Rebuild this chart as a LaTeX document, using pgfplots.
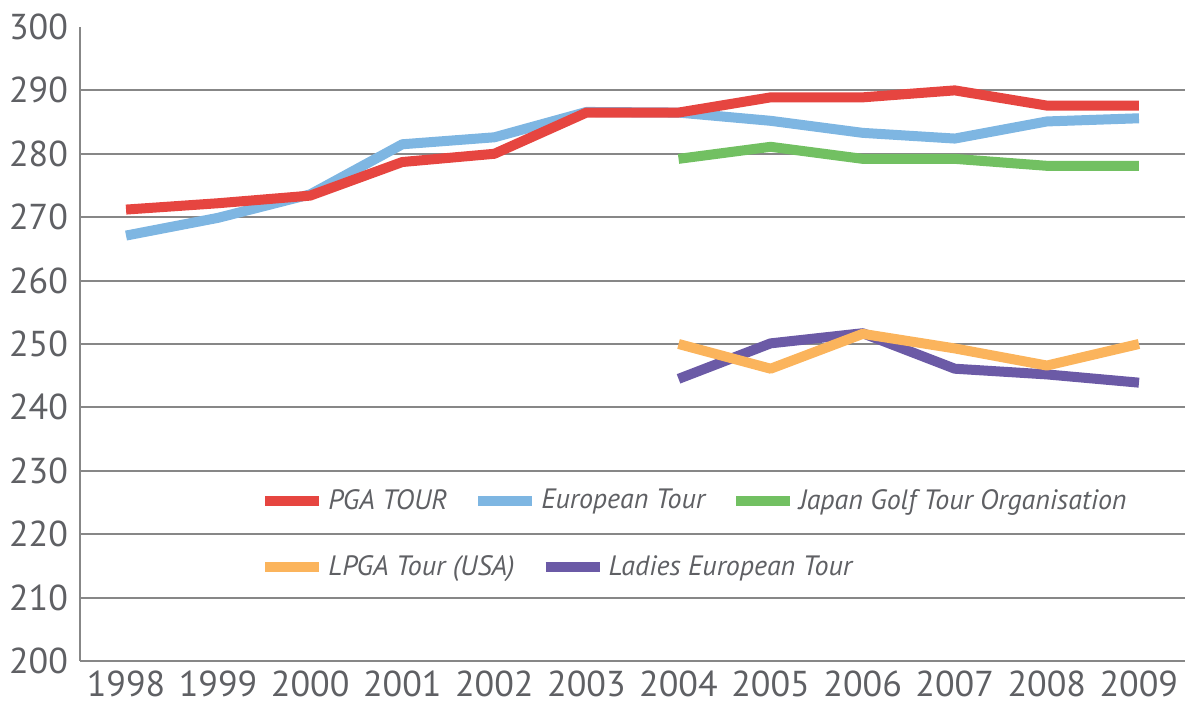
\documentclass[border=0pt]{standalone}
\usepackage{pgfplots}
\pgfplotsset{compat=1.18}
\usepackage{fontspec}
\setmainfont{PT Sans}
\definecolor{pga}{HTML}{E64540}
\definecolor{eur}{HTML}{7EB6E2}
\definecolor{jap}{HTML}{72C062}
\definecolor{lpga}{HTML}{FBB45C}
\definecolor{let}{HTML}{6B5AA6}
\definecolor{axgray}{HTML}{878787}
\definecolor{labgray}{HTML}{5F6064}
\pgfplotstableread{
year pga eur
1998 271.2 267.1
1999 272.2 269.9
2000 273.4 273.6
2001 278.7 281.5
2002 280.0 282.6
2003 286.5 286.6
2004 286.5 286.5
2005 288.9 285.2
2006 288.9 283.3
2007 290.0 282.4
2008 287.6 285.1
2009 287.6 285.6
}\men
\pgfplotstableread{
year jap lpga let
2004 279.2 250.0 244.5
2005 281.1 246.1 250.1
2006 279.2 251.6 251.7
2007 279.2 249.3 246.1
2008 278.1 246.6 245.2
2009 278.1 250.0 243.9
}\other
\begin{document}
\begin{tikzpicture}
\pgfplotsset{
  base/.style={scale only axis, width=552.5pt, height=317pt,
    xmin=1997.5, xmax=2009.5, ymin=200, ymax=300,
    every axis plot/.append style={line width=5pt, line join=round},
    legend style={draw=none, fill=none, inner sep=0pt, outer sep=0pt,
      font=\fontsize{14}{16}\selectfont\itshape, text=labgray,
      /tikz/every odd column/.style={column sep=0pt},
      /tikz/every even column/.style={column sep=11pt}},
    legend columns=-1,
    legend cell align=left,
    legend image code/.code={\draw[##1] (0pt,0pt) -- (27pt,0pt);},
  }
}
\begin{axis}[base,
  axis x line=bottom, axis y line=left,
  axis line style={-, draw=axgray, line width=0.8pt},
  xtick={1998,...,2009}, ytick={200,210,...,300},
  major tick length=0pt,
  extra y ticks={210,220,...,290}, extra y tick labels={},
  extra y tick style={grid=major, major grid style={draw=axgray, line width=1pt}},
  tick label style={font=\fontsize{18}{18}\selectfont, text=labgray},
  /pgf/number format/assume math mode=true,
  /pgf/number format/1000 sep={},
  xticklabel style={yshift=-1.5pt},
  yticklabel style={xshift=-2.5pt},
  legend style={at={(axis cs:1999.46,225.3)}, anchor=west},
]
\addplot[eur, forget plot] table[x=year, y=eur] {\men};
\addplot[pga] table[x=year, y=pga] {\men};
\addlegendentry{PGA TOUR}
\addlegendimage{eur}
\addlegendentry{European Tour}
\addplot[jap] table[x=year, y=jap] {\other};
\addlegendentry{Japan Golf Tour Organisation}
\end{axis}
\begin{axis}[base, hide axis,
  legend style={at={(axis cs:1999.46,214.8)}, anchor=west},
]
\addplot[let, forget plot] table[x=year, y=let] {\other};
\addplot[lpga] table[x=year, y=lpga] {\other};
\addlegendentry{LPGA Tour (USA)}
\addlegendimage{let}
\addlegendentry{Ladies European Tour}
\end{axis}
\pgfresetboundingbox
\path[use as bounding box] ([xshift=-40pt,yshift=-21.5pt]current axis.south west) rectangle ([xshift=2pt,yshift=13.5pt]current axis.north east);
\end{tikzpicture}
\end{document}
